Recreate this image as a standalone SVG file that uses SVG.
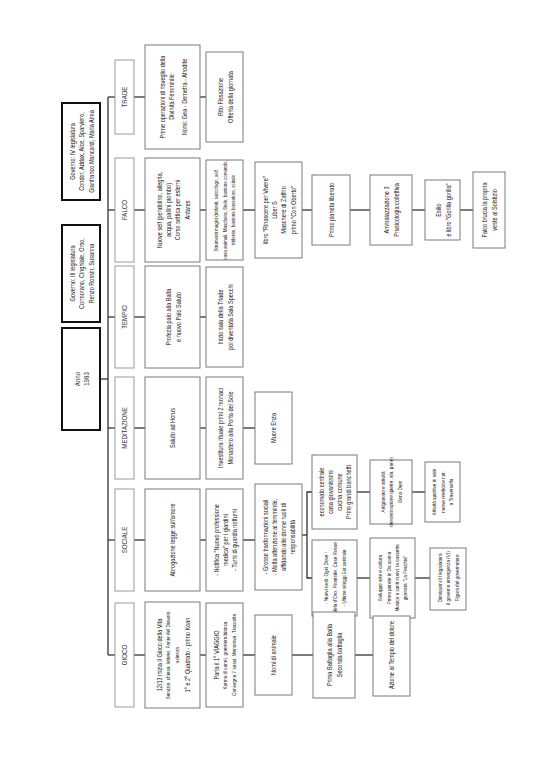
<svg xmlns="http://www.w3.org/2000/svg" width="535" height="770" viewBox="0 0 535 770">
<style>
.bg{fill:#fff}
.gov{fill:#fff;stroke:#111;stroke-width:2}
.cat{fill:#fff;stroke:#9a9a9a;stroke-width:1}
.box{fill:#fff;stroke:#7a7a7a;stroke-width:1}
.t{font-family:"Liberation Sans Narrow","Liberation Sans",Arial,sans-serif;font-size:6.8px;fill:#222;text-anchor:middle;dominant-baseline:central}
.s{font-size:5.7px}
.c{font-size:7.5px;fill:#333}
.conn line,.conn polyline{stroke:#333;stroke-width:1.3;fill:none}
</style>
<rect class="bg" x="0" y="0" width="535" height="770"/>
<g id="connectors" class="conn">
<line x1="108" y1="97" x2="108" y2="655"/>
<line x1="100" y1="379" x2="108" y2="379"/>
<line x1="108" y1="97" x2="115" y2="97"/>
<line x1="108" y1="210" x2="115" y2="210"/>
<line x1="108" y1="317" x2="115" y2="317"/>
<line x1="108" y1="428" x2="115" y2="428"/>
<line x1="108" y1="540" x2="115" y2="540"/>
<line x1="108" y1="655" x2="115" y2="655"/>
<line x1="134" y1="97" x2="145" y2="97"/>
<line x1="134" y1="210" x2="145" y2="210"/>
<line x1="134" y1="317" x2="145" y2="317"/>
<line x1="134" y1="428" x2="145" y2="428"/>
<line x1="134" y1="540" x2="145" y2="540"/>
<line x1="134" y1="655" x2="145" y2="655"/>
<line x1="200" y1="97" x2="206" y2="97"/>
<line x1="200" y1="210" x2="206" y2="210"/>
<line x1="200" y1="317" x2="206" y2="317"/>
<line x1="200" y1="428" x2="206" y2="428"/>
<line x1="200" y1="540" x2="206" y2="540"/>
<line x1="200" y1="655" x2="206" y2="655"/>
<line x1="243" y1="210" x2="255" y2="210"/>
<line x1="243" y1="428" x2="255" y2="428"/>
<line x1="243" y1="540" x2="255" y2="540"/>
<line x1="243" y1="655" x2="255" y2="655"/>
<line x1="302" y1="210" x2="312" y2="210"/>
<line x1="302" y1="535" x2="307" y2="535"/>
<polyline points="312,492 307,492 307,578 312,578"/>
<line x1="292" y1="655" x2="313" y2="655"/>
<line x1="350" y1="210" x2="370" y2="210"/>
<line x1="357" y1="492" x2="370" y2="492"/>
<line x1="357" y1="578" x2="370" y2="578"/>
<line x1="355" y1="655" x2="373" y2="655"/>
<line x1="412" y1="210" x2="425" y2="210"/>
<line x1="412" y1="492" x2="425" y2="492"/>
<line x1="415" y1="578" x2="430" y2="578"/>
<line x1="460" y1="210" x2="473" y2="210"/>
</g>
<g id="gov4"><rect class="gov" x="62" y="103" width="38" height="97"/>
<text class="t" transform="translate(81,151.5) rotate(-90) scale(0.82,1)"><tspan x="0" y="-9.5">Governo: IV legislatura</tspan><tspan x="0" y="0">Condor, Addax, Alce, Sparviero,</tspan><tspan x="0" y="9.5">Gianfranco Mancardi, Maria Alma</tspan></text></g>
<g id="gov3"><rect class="gov" x="62" y="225" width="38" height="97"/>
<text class="t" transform="translate(81,273.5) rotate(-90) scale(0.82,1)"><tspan x="0" y="-9.5">Governo: III legislatura</tspan><tspan x="0" y="0">Cormorano, Cinghiale, Orso,</tspan><tspan x="0" y="9.5">Renzo Rossin, Susanna</tspan></text></g>
<g id="anno"><rect class="gov" x="62" y="328" width="38" height="102"/>
<text class="t c" transform="translate(81,379) rotate(-90) scale(0.82,1)"><tspan x="0" y="-4.5">Anno</tspan><tspan x="0" y="4.5">1983</tspan></text></g>

<g id="cat-trade"><rect class="cat" x="115" y="60" width="19" height="74"/><text class="t c" transform="translate(124.5,97) rotate(-90) scale(0.82,1)">TRADE</text></g>
<g id="cat-falco"><rect class="cat" x="115" y="158" width="19" height="104"/><text class="t c" transform="translate(124.5,210) rotate(-90) scale(0.82,1)">FALCO</text></g>
<g id="cat-tempio"><rect class="cat" x="115" y="266" width="19" height="102"/><text class="t c" transform="translate(124.5,317) rotate(-90) scale(0.82,1)">TEMPIO</text></g>
<g id="cat-meditazione"><rect class="cat" x="115" y="377" width="19" height="102"/><text class="t c" transform="translate(124.5,428) rotate(-90) scale(0.82,1)">MEDITAZIONE</text></g>
<g id="cat-sociale"><rect class="cat" x="115" y="489" width="19" height="102"/><text class="t c" transform="translate(124.5,540) rotate(-90) scale(0.82,1)">SOCIALE</text></g>
<g id="cat-gioco"><rect class="cat" x="115" y="603" width="19" height="104"/><text class="t c" transform="translate(124.5,655) rotate(-90) scale(0.82,1)">GIOCO</text></g>

<g id="trade-2"><rect class="box" x="145" y="45" width="55" height="104"/>
<text class="t" transform="translate(172.5,97) rotate(-90) scale(0.82,1)"><tspan x="0" y="-11">Prime operazioni di risveglio della</tspan><tspan x="0" y="-1.5">Divinità Femminile</tspan><tspan x="0" y="11">Nomi: Gea - Demetra - Afrodite</tspan></text></g>
<g id="trade-3"><rect class="box" x="206" y="52" width="37" height="90"/>
<text class="t" transform="translate(224.5,97) rotate(-90) scale(0.82,1)"><tspan x="0" y="-5">Rito Fissazione</tspan><tspan x="0" y="5">Offerta della giornata</tspan></text></g>

<g id="falco-2"><rect class="box" x="145" y="158" width="55" height="104"/>
<text class="t" transform="translate(172.5,210) rotate(-90) scale(0.82,1)"><tspan x="0" y="-14">Nuove self (pendolino, allegria,</tspan><tspan x="0" y="-4.7">acqua, pallini piombo)</tspan><tspan x="0" y="4.7">Corso settica per esterni</tspan><tspan x="0" y="14">Antares</tspan></text></g>
<g id="falco-3"><rect class="box" x="206" y="160" width="37" height="100"/>
<text class="t s" transform="translate(224.5,210) rotate(-90) scale(0.82,1)" style="font-size:5.5px"><tspan x="0" y="-8.5">Strumenti magici (tridenti, sarcofago, self,</tspan><tspan x="0" y="0">casa animali, Maschera, Stele, bastone comando,</tspan><tspan x="0" y="8.5">tridente, bastone bussatore, scitale</tspan></text></g>
<g id="falco-4"><rect class="box" x="255" y="162" width="47" height="96"/>
<text class="t" transform="translate(278.5,210) rotate(-90) scale(0.82,1)"><tspan x="0" y="-14">libro "Rinascere per Vivere"</tspan><tspan x="0" y="-4.7">Liber S</tspan><tspan x="0" y="4.7">Maschere di Zaffiro</tspan><tspan x="0" y="14">primo "Con Oberto"</tspan></text></g>
<g id="falco-5"><rect class="box" x="312" y="175" width="38" height="70"/>
<text class="t" transform="translate(331,210) rotate(-90) scale(0.82,1)">Primo pianeta liberato</text></g>
<g id="falco-6"><rect class="box" x="370" y="175" width="42" height="70"/>
<text class="t" transform="translate(391,210) rotate(-90) scale(0.82,1)"><tspan x="0" y="-5">Ammalazzazione 3</tspan><tspan x="0" y="5">Prasicologia collettiva</tspan></text></g>
<g id="falco-7"><rect class="box" x="425" y="180" width="35" height="60"/>
<text class="t" transform="translate(442.5,210) rotate(-90) scale(0.82,1)"><tspan x="0" y="-5">Esilio</tspan><tspan x="0" y="5">e libro "Gorilla gorilla"</tspan></text></g>
<g id="falco-8"><rect class="box" x="473" y="172" width="32" height="76"/>
<text class="t" transform="translate(489,210) rotate(-90) scale(0.82,1)"><tspan x="0" y="-5">Falco brucia la propria</tspan><tspan x="0" y="5">veste al Solstizio</tspan></text></g>

<g id="tempio-2"><rect class="box" x="145" y="266" width="55" height="102"/>
<text class="t" transform="translate(172.5,317) rotate(-90) scale(0.82,1)"><tspan x="0" y="-5">Profezia palo alla Baita</tspan><tspan x="0" y="5">e nuovo Palo Saluto</tspan></text></g>
<g id="tempio-3"><rect class="box" x="206" y="267" width="37" height="100"/>
<text class="t" transform="translate(224.5,317) rotate(-90) scale(0.82,1)"><tspan x="0" y="-5">Inizio sala della Triade</tspan><tspan x="0" y="5">poi diventata Sala Specchi</tspan></text></g>

<g id="meditazione-2"><rect class="box" x="145" y="377" width="55" height="102"/>
<text class="t" transform="translate(172.5,428) rotate(-90) scale(0.82,1)">Saluto ad Horus</text></g>
<g id="meditazione-3"><rect class="box" x="206" y="377" width="37" height="102"/>
<text class="t" transform="translate(224.5,428) rotate(-90) scale(0.82,1)"><tspan x="0" y="-5">Investitura rituale primi 2 monaci</tspan><tspan x="0" y="5">Monastero alla Porta del Sole</tspan></text></g>
<g id="meditazione-4"><rect class="box" x="255" y="392" width="37" height="72"/>
<text class="t" transform="translate(273.5,428) rotate(-90) scale(0.82,1)">Muore Enza</text></g>

<g id="sociale-2"><rect class="box" x="145" y="489" width="55" height="102"/>
<text class="t" transform="translate(172.5,540) rotate(-90) scale(0.82,1)">Abrogazione legge sull'amore</text></g>
<g id="sociale-3"><rect class="box" x="206" y="489" width="37" height="102"/>
<text class="t" transform="translate(224.5,540) rotate(-90) scale(0.82,1)"><tspan x="0" y="-9">- Notifica "Nuovo professione</tspan><tspan x="0" y="0">medica" per i giardini</tspan><tspan x="0" y="9">- Turni di guardia notturni</tspan></text></g>
<g id="sociale-4"><rect class="box" x="255" y="484" width="47" height="106"/>
<text class="t" transform="translate(278.5,537) rotate(-90) scale(0.82,1)"><tspan x="0" y="-13.5">- Grosse trasformazioni sociali</tspan><tspan x="0" y="-4.5">- Molta attenzione al femminile,</tspan><tspan x="0" y="4.5">affidando alle donne ruoli di</tspan><tspan x="0" y="13.5">responsabilità</tspan></text></g>
<g id="sociale-5a"><rect class="box" x="312" y="455" width="45" height="74"/>
<text class="t" transform="translate(334.5,492) rotate(-90) scale(0.82,1)"><tspan x="0" y="-13.5">economato centrale</tspan><tspan x="0" y="-4.5">casa giovanissimi</tspan><tspan x="0" y="4.5">cucina comune</tspan><tspan x="0" y="13.5">Primi grandi banchetti</tspan></text></g>
<g id="sociale-5b"><rect class="box" x="312" y="540" width="45" height="76"/>
<text class="t s" transform="translate(334.5,578) rotate(-90) scale(0.82,1)"><tspan x="0" y="-9">- Nuovi ruoli: Ogni Dove !</tspan><tspan x="0" y="0">Mela d'Oro, Piramide, Case Rosse</tspan><tspan x="0" y="9">- Ultime alloggi Est centrale</tspan></text></g>
<g id="sociale-6a"><rect class="box" x="370" y="460" width="42" height="64"/>
<text class="t s" transform="translate(391,492) rotate(-90) scale(0.82,1)"><tspan x="0" y="-8.5">Artigianato e attività</tspan><tspan x="0" y="0">denominazione (pietre, ala, pane)</tspan><tspan x="0" y="8.5">Oeno Dam</tspan></text></g>
<g id="sociale-6b"><rect class="box" x="370" y="538" width="45" height="80"/>
<text class="t s" transform="translate(392.5,578) rotate(-90) scale(0.82,1)"><tspan x="0" y="-12.6">Sviluppo arte e cultura</tspan><tspan x="0" y="-4.2">Prima parete in Da scena</tspan><tspan x="0" y="4.2">Musica a canti nuovi, la cassetta</tspan><tspan x="0" y="12.6">giornata "La Pecchia"</tspan></text></g>
<g id="sociale-7a"><rect class="box" x="425" y="462" width="35" height="60"/>
<text class="t s" transform="translate(442.5,492) rotate(-90) scale(0.82,1)"><tspan x="0" y="-8.5">Attività sportive in sale</tspan><tspan x="0" y="0">nuove medicine nat.</tspan><tspan x="0" y="8.5">a Traversella</tspan></text></g>
<g id="sociale-7b"><rect class="box" x="430" y="548" width="36" height="62"/>
<text class="t s" transform="translate(448,578) rotate(-90) scale(0.82,1)"><tspan x="0" y="-8.5">Dimissioni III legislatura</tspan><tspan x="0" y="0">il governo emergenza (VI)</tspan><tspan x="0" y="8.5">Figura del governatore</tspan></text></g>

<g id="gioco-2"><rect class="box" x="145" y="602" width="55" height="106"/>
<text class="t" transform="translate(172.5,655) rotate(-90) scale(0.82,1)"><tspan x="0" y="-14">12/13 inizia il Gioco della Vita</tspan><tspan x="0" y="-4.7" class="s">Servizio, chiesa, lettere, Ponte del Diavolo,</tspan><tspan x="0" y="4.7" class="s">scienza</tspan><tspan x="0" y="14">1° e 2° Quadrato - primo Koan</tspan></text></g>
<g id="gioco-3"><rect class="box" x="206" y="603" width="37" height="104"/>
<text class="t" transform="translate(224.5,655) rotate(-90) scale(0.82,1)"><tspan x="0" y="-9">Parla il 1° VIAGGIO</tspan><tspan x="0" y="0" class="s">Karma (il cane), guerriera bianca,</tspan><tspan x="0" y="9" class="s">Consegna 7 sassi, Menorava, Traccolta</tspan></text></g>
<g id="gioco-4"><rect class="box" x="255" y="615" width="37" height="80"/>
<text class="t" transform="translate(273.5,655) rotate(-90) scale(0.82,1)">Nomi di animale</text></g>
<g id="gioco-5"><rect class="box" x="313" y="612" width="42" height="86"/>
<text class="t" transform="translate(334,655) rotate(-90) scale(0.82,1)"><tspan x="0" y="-5">Prima Battaglia alla Baita</tspan><tspan x="0" y="5">Seconda battaglia</tspan></text></g>
<g id="gioco-6"><rect class="box" x="373" y="616" width="37" height="80"/>
<text class="t" transform="translate(391.5,655) rotate(-90) scale(0.82,1)">Azione al Tempio del dolore</text></g>
</svg>
